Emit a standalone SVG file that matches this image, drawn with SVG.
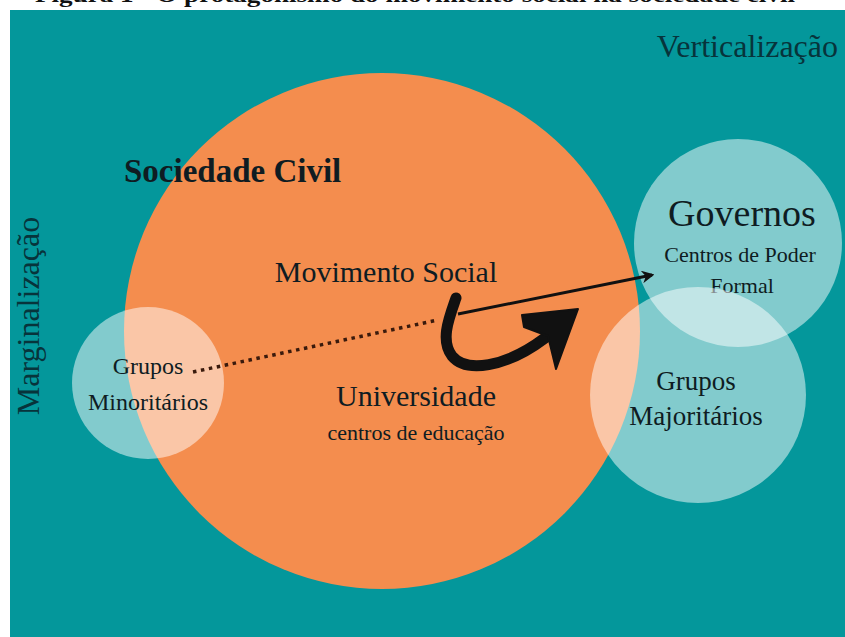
<svg xmlns="http://www.w3.org/2000/svg" width="845" height="637" viewBox="0 0 845 637">
  <defs>
    <style>
      .t { font-family: "Liberation Serif", "Times New Roman", serif; fill: #0f1c22; }
      .side { font-family: "Liberation Serif", "Times New Roman", serif; fill: #07343b; }
      .light { fill: #ffffff; fill-opacity: 0.5; }
    </style>
    <marker id="arr" viewBox="0 0 10 10" refX="8" refY="5" markerWidth="4.2" markerHeight="4.2" orient="auto" markerUnits="strokeWidth">
      <path d="M0,0 L10,5 L0,10 L3,5 z" fill="#111"/>
    </marker>
  </defs>
  <rect x="0" y="0" width="845" height="637" fill="#ffffff"/>
  <text class="t" x="35" y="2" font-size="22" font-weight="bold" textLength="760" lengthAdjust="spacingAndGlyphs" style="fill:#111">Figura 1 - O protagonismo do movimento social na sociedade civil</text>
  <rect x="10" y="10" width="835" height="627" fill="#04979b"/>

  <g id="sociedade-civil">
    <circle cx="382" cy="331" r="258" fill="#f48d4e"/>
    <text class="t" x="124" y="182" font-size="33" font-weight="bold">Sociedade Civil</text>
  </g>

  <g id="grupos-minoritarios">
    <circle class="light" cx="148" cy="383" r="76"/>
    <text class="t" x="148" y="374" font-size="24" text-anchor="middle">Grupos</text>
    <text class="t" x="148" y="410" font-size="24" text-anchor="middle">Minoritários</text>
  </g>

  <g id="governos">
    <circle class="light" cx="738" cy="243" r="104"/>
    <text class="t" x="742" y="226" font-size="38" text-anchor="middle">Governos</text>
    <text class="t" x="740" y="262" font-size="22" text-anchor="middle">Centros de Poder</text>
    <text class="t" x="742" y="293" font-size="22" text-anchor="middle">Formal</text>
  </g>

  <g id="grupos-majoritarios">
    <circle class="light" cx="698" cy="395" r="108"/>
    <text class="t" x="696" y="390" font-size="27" text-anchor="middle">Grupos</text>
    <text class="t" x="696" y="425" font-size="27" text-anchor="middle">Majoritários</text>
  </g>

  <g id="movimento-social">
    <text class="t" x="386" y="282" font-size="30" text-anchor="middle">Movimento Social</text>
  </g>

  <g id="universidade">
    <text class="t" x="416" y="406" font-size="30" text-anchor="middle">Universidade</text>
    <text class="t" x="416" y="440" font-size="22" text-anchor="middle">centros de educação</text>
  </g>

  <g id="eixos">
    <text class="side" x="838" y="57" font-size="32" text-anchor="end">Verticalização</text>
    <text class="side" transform="translate(39,316) rotate(-90)" x="0" y="0" font-size="32" text-anchor="middle">Marginalização</text>
  </g>

  <g id="connectors">
    <line x1="193" y1="372" x2="438" y2="320" stroke="#3a1a0c" stroke-width="3.5" stroke-dasharray="3.5 4.6"/>
    <line x1="458" y1="314" x2="652" y2="275" stroke="#111" stroke-width="3" marker-end="url(#arr)"/>
    <path d="M456,298 C449,318 440,340 452,356 C466,373 505,368 545,338" fill="none" stroke="#111" stroke-width="11" stroke-linecap="round"/>
    <path d="M522,315 L578,309 L556,369 L548,336 L524,327 Z" fill="#111" stroke="#111" stroke-width="2" stroke-linejoin="round"/>
  </g>
</svg>
